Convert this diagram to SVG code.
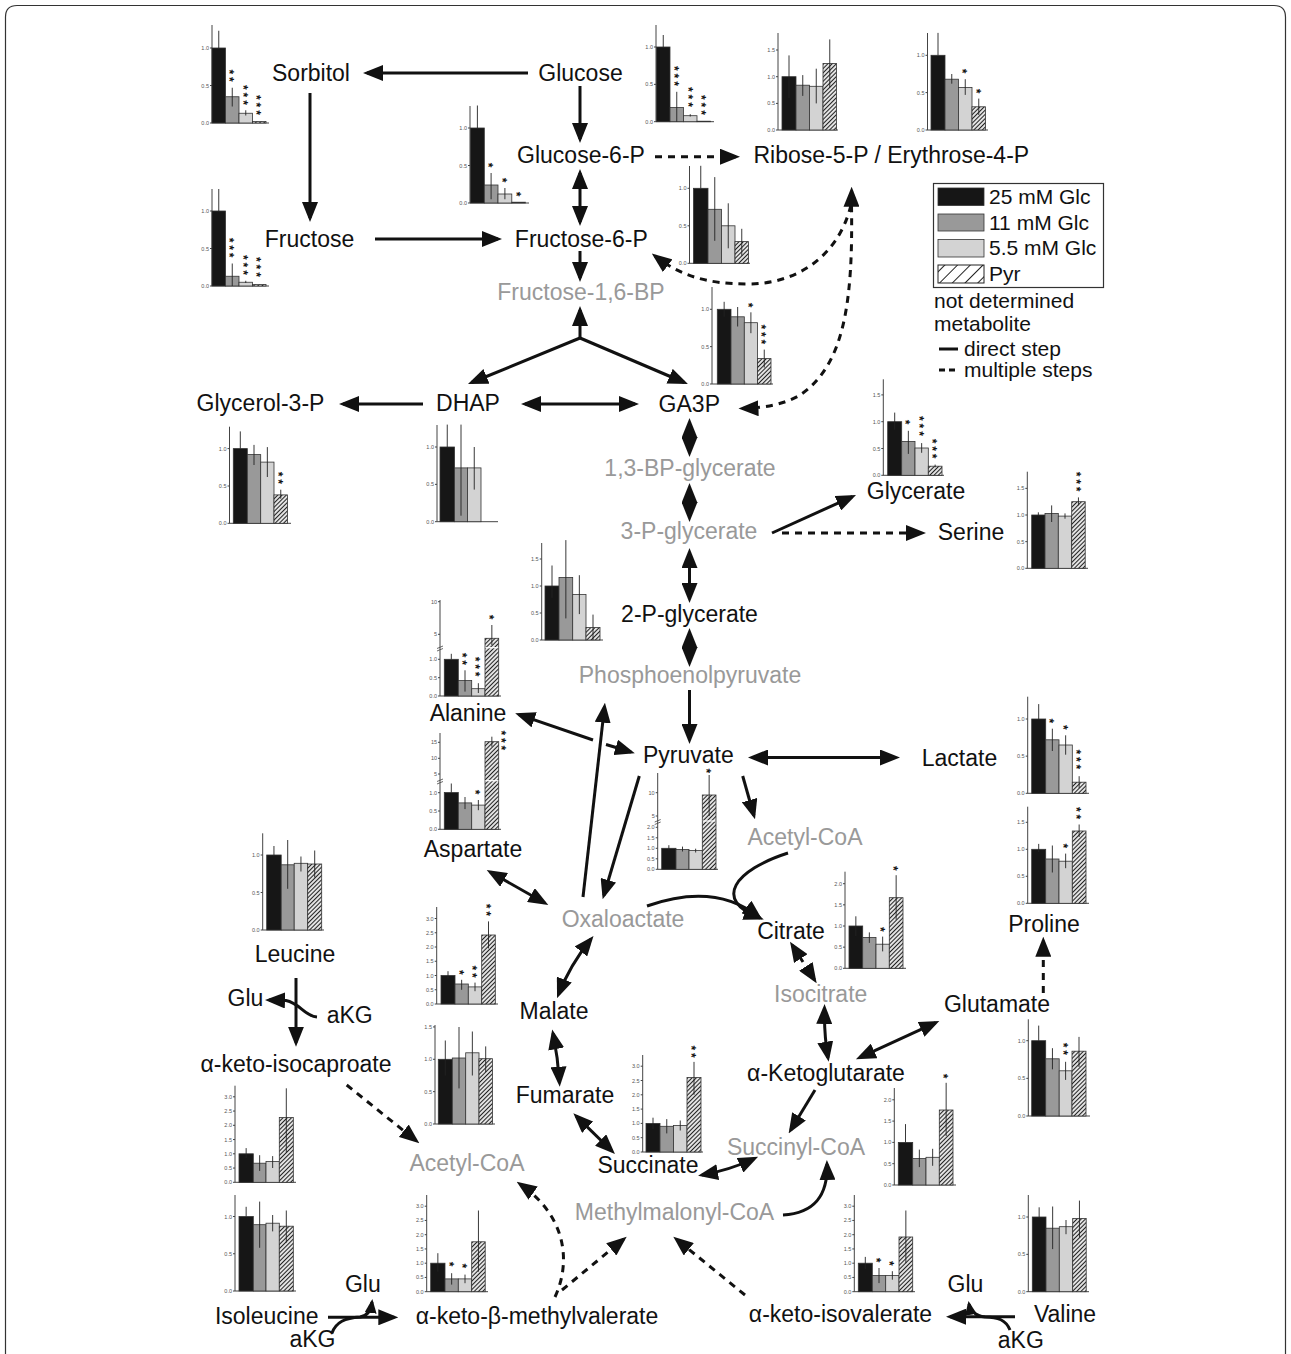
<svg xmlns="http://www.w3.org/2000/svg" width="1291" height="1354" viewBox="0 0 1291 1354">
<defs>
<style>
.t{font-family:"Liberation Sans",Arial,sans-serif;font-size:23px;fill:#111;text-anchor:middle}
.g{fill:#999}
.lg{font-family:"Liberation Sans",Arial,sans-serif;font-size:21px;fill:#111}
.ax{stroke:#444;stroke-width:1;fill:none}
.tk{font-family:"Liberation Sans",Arial,sans-serif;font-size:5.5px;fill:#555;text-anchor:end}
.b1{fill:#161616;stroke:#333;stroke-width:0.8}
.b2{fill:#999;stroke:#333;stroke-width:0.8}
.b3{fill:#d3d3d3;stroke:#333;stroke-width:0.8}
.b4{fill:url(#hatch);stroke:#333;stroke-width:0.8}
.er{stroke:#222;stroke-width:0.9;fill:none}
.sv{font-family:"Liberation Sans",Arial,sans-serif;font-size:12px;font-weight:bold;letter-spacing:2.9px;fill:#111;opacity:0.99}
.ln{stroke:#111;stroke-width:3;fill:none}
.ds{stroke:#111;stroke-width:3;fill:none;stroke-dasharray:7 6}
.a{marker-end:url(#ah)}
.aa{marker-start:url(#ah);marker-end:url(#ah)}
.brk{stroke:#fff;stroke-width:1.2}
</style>
<marker id="ah" markerUnits="userSpaceOnUse" markerWidth="20" markerHeight="16" refX="16" refY="8" orient="auto-start-reverse" viewBox="0 0 20 16"><path d="M0,0 L20,8 L0,16 z" fill="#111"/></marker>
<marker id="ahs" markerUnits="userSpaceOnUse" markerWidth="14" markerHeight="12" refX="11" refY="6" orient="auto" viewBox="0 0 14 12"><path d="M0,0 L14,6 L0,12 z" fill="#111"/></marker>
<pattern id="hatch" width="3" height="3" patternUnits="userSpaceOnUse" patternTransform="rotate(45)"><rect width="3" height="3" fill="#e2e2e2"/><line x1="0.5" y1="0" x2="0.5" y2="3" stroke="#222" stroke-width="1"/></pattern>
<pattern id="hatch2" width="9" height="9" patternUnits="userSpaceOnUse" patternTransform="rotate(45)"><rect width="9" height="9" fill="#fff"/><line x1="0.5" y1="0" x2="0.5" y2="9" stroke="#222" stroke-width="1"/></pattern>
</defs>
<rect width="1291" height="1354" fill="#fff"/>
<path d="M5.5,1354 V17 Q5.5,5.5 17,5.5 H1274 Q1285.5,5.5 1285.5,17 V1354" fill="none" stroke="#333" stroke-width="1.2"/>

<g id="connectors">
<path class="ln a" d="M528,73 L367,73"/>
<path class="ln a" d="M580,86 L580,139"/>
<path class="ln a" d="M310,93 L310,218"/>
<path class="ln a" d="M375,239 L498,239"/>
<path class="ln aa" d="M580,173 L580,222"/>
<path class="ln a" d="M580,251 L580,278"/>
<path class="ln a" d="M580,338 L580,310"/>
<path class="ln a" d="M580,338 L471.7,382.5"/>
<path class="ln a" d="M580,338 L684.3,382.5"/>
<path class="ln a" d="M423,404 L343,404"/>
<path class="ln aa" d="M525,404 L635,404"/>
<path class="ln aa" d="M689.5,422 L689.5,453"/>
<path class="ln aa" d="M689.5,487 L689.5,518"/>
<path class="ln aa" d="M689.5,552 L689.5,599"/>
<path class="ln aa" d="M689.5,632 L689.5,663"/>
<path class="ln a" d="M689.5,690 L689.5,740"/>
<path class="ln a" d="M772,533 L852.4,496.6"/>
<path class="ds a" d="M782,533 L922,533"/>
<path class="ln aa" d="M752,757.5 L896,757.5"/>
<path class="ln" d="M519,714.6 L593,740" marker-start="url(#ah)"/>
<path class="ln a" d="M606,744.5 L631,752"/>
<path class="ln a" d="M583,897 L604.5,706.7"/>
<path class="ln a" d="M639.3,776 L603.8,895.5"/>
<path class="ln a" d="M742.7,776 L753.9,815.5"/>
<path class="ln a" d="M788,853 C735,870 712,900 760,918"/>
<path class="ln a" d="M647,906 Q715,882 759,917"/>
<path class="ln aa" d="M490.2,872 L544.8,903"/>
<path class="ds aa" d="M792.2,945.1 L814.5,979.9"/>
<path class="ln aa" d="M824.5,1008 Q824,1035 828,1057.7"/>
<path class="ln aa" d="M859.6,1057.6 L935.7,1022.7"/>
<path class="ds a" d="M1043.3,993 L1043.3,940.7"/>
<path class="ln aa" d="M591,939 Q570,965 558.5,994.5"/>
<path class="ln aa" d="M553,1033.3 Q558,1058 559.5,1082.7"/>
<path class="ln aa" d="M576.2,1116.1 L612.1,1151.2"/>
<path class="ln aa" d="M702,1175 Q730,1170 754.5,1158.5"/>
<path class="ln a" d="M815,1090 L790.7,1130"/>
<path class="ln a" d="M783,1215 C815,1213 828,1195 827,1164"/>
<path class="ds a" d="M346.7,1085 L416.2,1140.8"/>
<path class="ds a" d="M555,1297 C572,1260 565,1215 520,1184"/>
<path class="ds a" d="M562,1290 L623.6,1239.2"/>
<path class="ds a" d="M745,1295 L676.4,1239.2"/>
<path class="ln a" d="M296,978 L296,1042.7"/>
<path class="ln a" d="M317,1017 C304,1016 300,1003 286,1000.5 L269,1000"/>
<path class="ln a" d="M328,1317.3 L394.3,1317.3"/>
<path class="ln" d="M332,1333 C336,1322 345,1318 360,1317 C368,1316 371,1310 372,1302" marker-end="url(#ahs)"/>
<path class="ln a" d="M1015,1316.7 L950,1316.7"/>
<path class="ln" d="M1010,1330 C1006,1320 998,1317 985,1317 C975,1316 970,1310 969,1304" marker-end="url(#ahs)"/>
<path class="ds a" d="M655,156.7 L736,156.7"/>
<path class="ds a" d="M851,205 C838,258 795,284 748,284 C705,284 680,275 655,256"/>
<path class="ds a" d="M851.5,205 C853,300 845,365 800,395 C785,404 765,408 742.5,408.5"/>
<path class="ln a" d="M851.5,205 L851.6,190.7"/>
</g>

<g id="legend">
<rect x="933.5" y="183.5" width="170" height="104" fill="#fff" stroke="#333" stroke-width="1.2"/>
<rect x="938" y="188" width="46" height="17.5" class="b1"/>
<rect x="938" y="214" width="46" height="17" class="b2"/>
<rect x="938" y="239.5" width="46" height="17.5" class="b3"/>
<rect x="938" y="265" width="46" height="18" fill="url(#hatch2)" stroke="#222" stroke-width="1"/>
<text class="lg" x="989" y="203.5">25 mM Glc</text>
<text class="lg" x="989" y="229.5">11 mM Glc</text>
<text class="lg" x="989" y="255">5.5 mM Glc</text>
<text class="lg" x="989" y="280.5">Pyr</text>
<text class="lg g" x="934" y="307.5">not determined</text>
<text class="lg g" x="934" y="330.5">metabolite</text>
<path d="M939,349 H958" class="ln"/>
<text class="lg" x="964" y="355.5">direct step</text>
<path d="M939,370 h6 M949,370 h6" class="ln"/>
<text class="lg" x="964" y="376.5">multiple steps</text>
</g>

<g id="sorbitol">
<text class="t" x="311" y="81">Sorbitol</text>
<path class="ax" d="M212,25 V123 M210,123 H269 M210,48 H212 M210,85.5 H212"/>
<text class="tk" x="209" y="50">1.0</text><text class="tk" x="209" y="87.5">0.5</text><text class="tk" x="209" y="125">0.0</text>
<rect class="b1" x="212" y="48" width="13.5" height="75"/><rect class="b2" x="225.5" y="96.75" width="13.5" height="26.25"/><rect class="b3" x="239" y="113.25" width="13.5" height="9.75"/><rect class="b4" x="252.5" y="121.5" width="13.5" height="1.5"/>
<path class="er" d="M218.75,48 V30.75 M232.25,106.5 V87.75 M245.75,115.5 V110.25"/>
<text class="sv" x="0" y="7" transform="translate(232.25,69.4) rotate(90)">**</text>
<text class="sv" x="0" y="7" transform="translate(245.75,85) rotate(90)">***</text>
<text class="sv" x="0" y="7" transform="translate(259.25,95) rotate(90)">***</text>
</g>

<g id="glucose">
<text class="t" x="580.5" y="81">Glucose</text>
<path class="ax" d="M656,25 V121.7 M654,121.7 H714 M654,47 H656 M654,84.35 H656"/>
<text class="tk" x="653" y="49">1.0</text><text class="tk" x="653" y="86.35">0.5</text><text class="tk" x="653" y="123.7">0.0</text>
<rect class="b1" x="656.5" y="47" width="13.5" height="74.7"/><rect class="b2" x="670" y="107.5" width="13.5" height="14.2"/><rect class="b3" x="683.5" y="115.7" width="13.5" height="6"/><rect class="b4" x="697" y="121.2" width="13.5" height="0.5"/>
<path class="er" d="M663.25,47 V35 M676.75,121.7 V91.8 M690.25,116.5 V114.2"/>
<text class="sv" x="0" y="7" transform="translate(677,66) rotate(90)">***</text>
<text class="sv" x="0" y="7" transform="translate(690.5,87) rotate(90)">***</text>
<text class="sv" x="0" y="7" transform="translate(704,95) rotate(90)">***</text>
</g>

<g id="glucose-6-p">
<text class="t" x="581" y="163.3">Glucose-6-P</text>
<path class="ax" d="M470,106 V203 M468,203 H529 M468,128 H470 M468,165.5 H470"/>
<text class="tk" x="467" y="130">1.0</text><text class="tk" x="467" y="167.5">0.5</text><text class="tk" x="467" y="205">0.0</text>
<rect class="b1" x="470.5" y="128" width="13.8" height="75"/><rect class="b2" x="484.3" y="185" width="13.7" height="18"/><rect class="b3" x="498" y="194" width="13.8" height="9"/><rect class="b4" x="511.8" y="202.2" width="13.7" height="0.8"/>
<path class="er" d="M477.4,128 V105.5 M491.1,199.25 V173 M504.9,199.25 V188"/>
<text class="sv" x="0" y="7" transform="translate(491.1,162.7) rotate(90)">*</text>
<text class="sv" x="0" y="7" transform="translate(504.9,177.7) rotate(90)">*</text>
<text class="sv" x="0" y="7" transform="translate(518.6,191.7) rotate(90)">*</text>
</g>

<g id="ribose-erythrose">
<text class="t" x="891.3" y="163.3">Ribose-5-P / Erythrose-4-P</text>
<path class="ax" d="M778,33 V130 M776,130 H838 M776,103.4 H778 M776,76.7 H778 M776,50 H778"/>
<text class="tk" x="775" y="132">0.0</text><text class="tk" x="775" y="105.4">0.5</text><text class="tk" x="775" y="78.7">1.0</text><text class="tk" x="775" y="52">1.5</text>
<rect class="b1" x="782" y="76.7" width="14" height="53.3"/><rect class="b2" x="796" y="85.2" width="13.5" height="44.8"/><rect class="b3" x="809.5" y="86.3" width="13.5" height="43.7"/><rect class="b4" x="823" y="63.4" width="13.5" height="66.6"/>
<path class="er" d="M789,98 V55.4 M802.75,95.9 V75.1 M816.25,103.4 V68.7 M829.75,87.4 V39.4"/>
<path class="ax" d="M927.5,33 V130 M925.5,130 H988 M925.5,55.3 H927.5 M925.5,92.6 H927.5"/>
<text class="tk" x="924.5" y="57.3">1.0</text><text class="tk" x="924.5" y="94.6">0.5</text><text class="tk" x="924.5" y="132">0.0</text>
<rect class="b1" x="931" y="55.3" width="14" height="74.7"/><rect class="b2" x="945" y="79.2" width="13.5" height="50.8"/><rect class="b3" x="958.5" y="87.4" width="13.5" height="42.6"/><rect class="b4" x="972" y="106.8" width="13.5" height="23.2"/>
<path class="er" d="M938,55.3 V32.9 M951.75,83.7 V74 M965.25,94.9 V79.2 M978.75,115 V98.6"/>
<text class="sv" x="0" y="7" transform="translate(965.25,68.7) rotate(90)">*</text>
<text class="sv" x="0" y="7" transform="translate(978.75,88.7) rotate(90)">*</text>
</g>

<g id="fructose">
<text class="t" x="309.5" y="246.7">Fructose</text>
<path class="ax" d="M212,189 V286 M210,286 H269 M210,211 H212 M210,248.5 H212"/>
<text class="tk" x="209" y="213">1.0</text><text class="tk" x="209" y="250.5">0.5</text><text class="tk" x="209" y="288">0.0</text>
<rect class="b1" x="212" y="211" width="13.5" height="75"/><rect class="b2" x="225.5" y="276.25" width="13.5" height="9.75"/><rect class="b3" x="239" y="282.25" width="13.5" height="3.75"/><rect class="b4" x="252.5" y="284.5" width="13.5" height="1.5"/>
<path class="er" d="M218.75,211 V189 M232.25,286 V263.5 M245.75,283 V280.75"/>
<text class="sv" x="0" y="7" transform="translate(232.25,237.7) rotate(90)">***</text>
<text class="sv" x="0" y="7" transform="translate(245.75,255) rotate(90)">***</text>
<text class="sv" x="0" y="7" transform="translate(259.25,257) rotate(90)">***</text>
</g>

<g id="fructose-6-p">
<text class="t" x="581.3" y="246.7">Fructose-6-P</text>
<path class="ax" d="M689.5,166 V263.3 M687.5,263.3 H750 M687.5,188.3 H689.5 M687.5,225.8 H689.5"/>
<text class="tk" x="686.5" y="190.3">1.0</text><text class="tk" x="686.5" y="227.8">0.5</text><text class="tk" x="686.5" y="265.3">0.0</text>
<rect class="b1" x="693.5" y="188.3" width="14.5" height="75"/><rect class="b2" x="708" y="209.3" width="13.5" height="54"/><rect class="b3" x="721.5" y="225.8" width="13.5" height="37.5"/><rect class="b4" x="735" y="241.6" width="13.5" height="21.7"/>
<path class="er" d="M700.75,188.3 V165.8 M714.75,240.8 V177.1 M728.25,248.3 V203.3 M741.75,255.8 V228.8"/>
</g>

<g id="fructose-16-bp">
<text class="t g" x="581" y="299.5">Fructose-1,6-BP</text>
</g>

<g id="ga3p">
<text class="t" x="689.3" y="411.5">GA3P</text>
<path class="ax" d="M712,287 V384 M710,384 H773 M710,309.3 H712 M710,346.65 H712"/>
<text class="tk" x="709" y="311.3">1.0</text><text class="tk" x="709" y="348.65">0.5</text><text class="tk" x="709" y="386">0.0</text>
<rect class="b1" x="717.3" y="309.3" width="13.7" height="74.7"/><rect class="b2" x="731" y="316.8" width="13.3" height="67.2"/><rect class="b3" x="744.3" y="322.7" width="13.2" height="61.3"/><rect class="b4" x="757.5" y="358.6" width="13.5" height="25.4"/>
<path class="er" d="M724.15,316.8 V301.8 M737.65,326.5 V307 M750.9,333.2 V312.3 M764.25,367.6 V349.6"/>
<text class="sv" x="0" y="7" transform="translate(750.9,302.7) rotate(90)">*</text>
<text class="sv" x="0" y="7" transform="translate(764.25,324.4) rotate(90)">***</text>
</g>

<g id="glycerol-3-p">
<text class="t" x="260.5" y="410.7">Glycerol-3-P</text>
<path class="ax" d="M229.5,426.7 V523.3 M227.5,523.3 H291 M227.5,448.6 H229.5 M227.5,486 H229.5"/>
<text class="tk" x="226.5" y="450.6">1.0</text><text class="tk" x="226.5" y="488">0.5</text><text class="tk" x="226.5" y="525.3">0.0</text>
<rect class="b1" x="233.3" y="448.6" width="14" height="74.7"/><rect class="b2" x="247.3" y="454.6" width="13.4" height="68.7"/><rect class="b3" x="260.7" y="462.1" width="13.3" height="61.2"/><rect class="b4" x="274" y="494.9" width="13.5" height="28.4"/>
<path class="er" d="M240.3,448.6 V431.4 M254,465 V444.9 M267.35,477 V447.1 M280.75,498.7 V489.7"/>
<text class="sv" x="0" y="7" transform="translate(280.75,471.7) rotate(90)">**</text>
</g>

<g id="dhap">
<text class="t" x="468" y="410.7">DHAP</text>
<path class="ax" d="M437,425 V521.7 M435,521.7 H498 M435,447 H437 M435,484.35 H437"/>
<text class="tk" x="434" y="449">1.0</text><text class="tk" x="434" y="486.35">0.5</text><text class="tk" x="434" y="523.7">0.0</text>
<rect class="b1" x="440" y="447" width="14.5" height="74.7"/><rect class="b2" x="454.5" y="467.9" width="13" height="53.8"/><rect class="b3" x="467.5" y="467.9" width="13.5" height="53.8"/>
<path class="er" d="M447.25,447 V424.6 M461,515.7 V424.6 M474.25,489.6 V447"/>
</g>

<g id="13-bp-glycerate"><text class="t g" x="690" y="476">1,3-BP-glycerate</text></g>
<g id="3-p-glycerate"><text class="t g" x="689" y="539.3">3-P-glycerate</text></g>

<g id="glycerate">
<text class="t" x="916" y="499.3">Glycerate</text>
<path class="ax" d="M883.3,379.3 V475.3 M881.3,475.3 H944 M881.3,448.5 H883.3 M881.3,421.7 H883.3 M881.3,394.9 H883.3"/>
<text class="tk" x="880.3" y="477.3">0.0</text><text class="tk" x="880.3" y="450.5">0.5</text><text class="tk" x="880.3" y="423.7">1.0</text><text class="tk" x="880.3" y="396.9">1.5</text>
<rect class="b1" x="887.7" y="421.7" width="14" height="53.6"/><rect class="b2" x="901.7" y="441.5" width="13.3" height="33.8"/><rect class="b3" x="915" y="448" width="13.3" height="27.3"/><rect class="b4" x="928.3" y="466.2" width="13.7" height="9.1"/>
<path class="er" d="M894.7,429.7 V412.6 M908.35,453.9 V430.8 M921.65,452.8 V443.1 M935.15,467.3 V464.6"/>
<text class="sv" x="0" y="7" transform="translate(908.35,419.7) rotate(90)">*</text>
<text class="sv" x="0" y="7" transform="translate(921.65,416) rotate(90)">***</text>
<text class="sv" x="0" y="7" transform="translate(935.15,438.7) rotate(90)">***</text>
</g>

<g id="serine">
<text class="t" x="971" y="540">Serine</text>
<path class="ax" d="M1027.3,471.7 V568.3 M1025.3,568.3 H1088 M1025.3,541.65 H1027.3 M1025.3,515 H1027.3 M1025.3,488.35 H1027.3"/>
<text class="tk" x="1024.3" y="570.3">0.0</text><text class="tk" x="1024.3" y="543.65">0.5</text><text class="tk" x="1024.3" y="517">1.0</text><text class="tk" x="1024.3" y="490.35">1.5</text>
<rect class="b1" x="1031.7" y="515" width="13.3" height="53.3"/><rect class="b2" x="1045" y="513.4" width="13.3" height="54.9"/><rect class="b3" x="1058.3" y="516.1" width="13.4" height="52.2"/><rect class="b4" x="1071.7" y="501.7" width="13.5" height="66.6"/>
<path class="er" d="M1038.35,516.1 V512.3 M1051.65,522 V505.4 M1065,518.7 V513.4 M1078.45,505.4 V497.4"/>
<text class="sv" x="0" y="7" transform="translate(1079,471.7) rotate(90)">***</text>
</g>

<g id="2-p-glycerate">
<text class="t" x="689.5" y="621.7">2-P-glycerate</text>
<path class="ax" d="M541.7,543 V640 M539.7,640 H603 M539.7,613 H541.7 M539.7,586 H541.7 M539.7,559 H541.7"/>
<text class="tk" x="538.7" y="642">0.0</text><text class="tk" x="538.7" y="615">0.5</text><text class="tk" x="538.7" y="588">1.0</text><text class="tk" x="538.7" y="561">1.5</text>
<rect class="b1" x="545" y="586" width="14" height="54"/><rect class="b2" x="559" y="577.4" width="13.7" height="62.6"/><rect class="b3" x="572.7" y="594.6" width="13.3" height="45.4"/><rect class="b4" x="586" y="627.6" width="14" height="12.4"/>
<path class="er" d="M552,597.9 V565.5 M565.85,618.4 V540.1 M579.35,614.1 V575.2 M593,640 V614.6"/>
</g>

<g id="phosphoenolpyruvate"><text class="t g" x="690" y="683.3">Phosphoenolpyruvate</text></g>

<g id="alanine">
<text class="t" x="468" y="720.7">Alanine</text>
<path class="ax" d="M440,600 V696 M438,696 H501 M438,677.7 H440 M438,659.3 H440 M438,634.3 H440 M438,601.7 H440"/>
<path d="M437,648.5 l6,-2.5 M437,651 l6,-2.5" stroke="#444" stroke-width="0.8"/>
<text class="tk" x="437" y="698">0.0</text><text class="tk" x="437" y="679.7">0.5</text><text class="tk" x="437" y="661.3">1.0</text><text class="tk" x="437" y="636.3">5</text><text class="tk" x="437" y="603.7">10</text>
<rect class="b1" x="444.3" y="659.3" width="14" height="36.7"/><rect class="b2" x="458.3" y="680.6" width="13.4" height="15.4"/><rect class="b3" x="471.7" y="688.7" width="13.3" height="7.3"/><rect class="b4" x="485" y="638.3" width="13.7" height="57.7"/>
<path class="brk" d="M485.4,647.7 H498.3"/>
<path class="er" d="M451.3,659.3 V653.8 M465,691.6 V670.3 M478.35,693 V683.2 M491.85,645 V625"/>
<text class="sv" x="0" y="7" transform="translate(491.85,614.7) rotate(90)">*</text>
<text class="sv" x="0" y="7" transform="translate(465,652.7) rotate(90)">**</text>
<text class="sv" x="0" y="7" transform="translate(478.35,656.7) rotate(90)">***</text>
</g>

<g id="aspartate">
<text class="t" x="473" y="857.3">Aspartate</text>
<path class="ax" d="M440,733 V829.3 M438,829.3 H501 M438,811 H440 M438,792.7 H440 M438,774 H440 M438,758.3 H440 M438,742.3 H440"/>
<path d="M437,781.5 l6,-2.5 M437,784 l6,-2.5" stroke="#444" stroke-width="0.8"/>
<text class="tk" x="437" y="831.3">0.0</text><text class="tk" x="437" y="813">0.5</text><text class="tk" x="437" y="794.7">1.0</text><text class="tk" x="437" y="776">5</text><text class="tk" x="437" y="760.3">10</text><text class="tk" x="437" y="744.3">15</text>
<rect class="b1" x="444.3" y="792.6" width="14" height="36.7"/><rect class="b2" x="458.3" y="802.9" width="13.4" height="26.4"/><rect class="b3" x="471.7" y="805.1" width="13.3" height="24.2"/><rect class="b4" x="485" y="741.7" width="13.7" height="87.6"/>
<path class="brk" d="M485.4,780.7 H498.3"/>
<path class="er" d="M451.3,792.6 V783.5 M465,809.1 V797 M478.35,810.2 V800 M491.85,746.7 V736.7"/>
<text class="sv" x="0" y="7" transform="translate(504,730.4) rotate(90)">***</text>
<text class="sv" x="0" y="7" transform="translate(478.35,789.7) rotate(90)">*</text>
</g>

<g id="pyruvate">
<text class="t" x="688.3" y="762.7">Pyruvate</text>
<path class="ax" d="M657.7,773 V869.3 M655.7,869.3 H718 M655.7,858.8 H657.7 M655.7,848.3 H657.7 M655.7,837.8 H657.7 M655.7,827.3 H657.7 M655.7,816 H657.7 M655.7,792.7 H657.7"/>
<path d="M654.7,822 l6,-2.5 M654.7,824.5 l6,-2.5" stroke="#444" stroke-width="0.8"/>
<text class="tk" x="654.7" y="871.3">0.0</text><text class="tk" x="654.7" y="860.8">0.5</text><text class="tk" x="654.7" y="850.3">1.0</text><text class="tk" x="654.7" y="839.8">1.5</text><text class="tk" x="654.7" y="829.3">2.0</text><text class="tk" x="654.7" y="818">5</text><text class="tk" x="654.7" y="794.7">10</text>
<rect class="b1" x="661.7" y="848.3" width="14.3" height="21"/><rect class="b2" x="676" y="849.4" width="13" height="19.9"/><rect class="b3" x="689" y="850.4" width="13.3" height="18.9"/><rect class="b4" x="702.3" y="795" width="13.7" height="74.3"/>
<path class="brk" d="M702.7,821 H715.6"/>
<path class="er" d="M668.85,850.4 V845.2 M682.5,851.5 V846.6 M695.65,852.5 V848.7 M709.15,816 V775"/>
<text class="sv" x="0" y="7" transform="translate(709.3,768.5) rotate(90)">*</text>
</g>

<g id="lactate">
<text class="t" x="959.5" y="766">Lactate</text>
<path class="ax" d="M1027.7,696.7 V793.3 M1025.7,793.3 H1089 M1025.7,719 H1027.7 M1025.7,756.15 H1027.7"/>
<text class="tk" x="1024.7" y="721">1.0</text><text class="tk" x="1024.7" y="758.15">0.5</text><text class="tk" x="1024.7" y="795.3">0.0</text>
<rect class="b1" x="1031.7" y="719" width="14" height="74.3"/><rect class="b2" x="1045.7" y="739.8" width="13.3" height="53.5"/><rect class="b3" x="1059" y="745" width="13.3" height="48.3"/><rect class="b4" x="1072.3" y="782.2" width="13.7" height="11.1"/>
<path class="er" d="M1038.7,719 V704.1 M1052.35,751 V728.7 M1065.65,754.7 V735.3 M1079.15,788.1 V776.2"/>
<text class="sv" x="0" y="7" transform="translate(1052.35,718.4) rotate(90)">*</text>
<text class="sv" x="0" y="7" transform="translate(1065.65,725) rotate(90)">*</text>
<text class="sv" x="0" y="7" transform="translate(1079.15,749.4) rotate(90)">***</text>
</g>

<g id="acetyl-coa-1"><text class="t g" x="805" y="845">Acetyl-CoA</text></g>
<g id="oxaloactate"><text class="t g" x="623" y="927.3">Oxaloactate</text></g>

<g id="proline">
<text class="t" x="1044" y="931.7">Proline</text>
<path class="ax" d="M1027.7,806.7 V903.3 M1025.7,903.3 H1089 M1025.7,876.3 H1027.7 M1025.7,849.3 H1027.7 M1025.7,822.3 H1027.7"/>
<text class="tk" x="1024.7" y="905.3">0.0</text><text class="tk" x="1024.7" y="878.3">0.5</text><text class="tk" x="1024.7" y="851.3">1.0</text><text class="tk" x="1024.7" y="824.3">1.5</text>
<rect class="b1" x="1031.7" y="849.3" width="14" height="54"/><rect class="b2" x="1045.7" y="859" width="13.3" height="44.3"/><rect class="b3" x="1059" y="861.2" width="13.3" height="42.1"/><rect class="b4" x="1072.3" y="831" width="13.7" height="72.3"/>
<path class="er" d="M1038.7,852 V843.9 M1052.35,872.5 V845.5 M1065.65,868.2 V853.6 M1079.15,836.9 V824.5"/>
<text class="sv" x="0" y="7" transform="translate(1065.65,843.4) rotate(90)">*</text>
<text class="sv" x="0" y="7" transform="translate(1079.15,807) rotate(90)">**</text>
</g>

<g id="citrate">
<text class="t" x="791" y="939.3">Citrate</text>
<path class="ax" d="M845,871.7 V968.3 M843,968.3 H906 M843,947.15 H845 M843,926 H845 M843,904.85 H845 M843,883.7 H845"/>
<text class="tk" x="842" y="970.3">0.0</text><text class="tk" x="842" y="949.15">0.5</text><text class="tk" x="842" y="928">1.0</text><text class="tk" x="842" y="906.85">1.5</text><text class="tk" x="842" y="885.7">2.0</text>
<rect class="b1" x="849" y="926" width="13.7" height="42.3"/><rect class="b2" x="862.7" y="937.4" width="13.3" height="30.9"/><rect class="b3" x="876" y="944.2" width="13.3" height="24.1"/><rect class="b4" x="889.3" y="897.7" width="13.7" height="70.6"/>
<path class="er" d="M855.85,936.1 V916.3 M869.35,942.9 V932.4 M882.65,951.4 V936.6 M896.15,919.7 V875.2"/>
<text class="sv" x="0" y="7" transform="translate(882.65,927) rotate(90)">*</text>
<text class="sv" x="0" y="7" transform="translate(896.15,866) rotate(90)">*</text>
</g>

<g id="isocitrate"><text class="t g" x="820.7" y="1001.7">Isocitrate</text></g>

<g id="malate">
<text class="t" x="554" y="1019.3">Malate</text>
<path class="ax" d="M436.7,907 V1004 M434.7,1004 H498 M434.7,989.75 H436.7 M434.7,975.5 H436.7 M434.7,961.25 H436.7 M434.7,947 H436.7 M434.7,932.75 H436.7 M434.7,918.5 H436.7"/>
<text class="tk" x="433.7" y="1006">0.0</text><text class="tk" x="433.7" y="991.75">0.5</text><text class="tk" x="433.7" y="977.5">1.0</text><text class="tk" x="433.7" y="963.25">1.5</text><text class="tk" x="433.7" y="949">2.0</text><text class="tk" x="433.7" y="934.75">2.5</text><text class="tk" x="433.7" y="920.5">3.0</text>
<rect class="b1" x="441" y="975.5" width="14" height="28.5"/><rect class="b2" x="455" y="984" width="13.3" height="20"/><rect class="b3" x="468.3" y="986.9" width="13.4" height="17.1"/><rect class="b4" x="481.7" y="935" width="13.6" height="69"/>
<path class="er" d="M448,978.4 V971.2 M461.65,989.8 V979.8 M475,991.2 V982.6 M488.5,948.4 V921.4"/>
<text class="sv" x="0" y="7" transform="translate(461.65,970) rotate(90)">*</text>
<text class="sv" x="0" y="7" transform="translate(475,965.4) rotate(90)">**</text>
<text class="sv" x="0" y="7" transform="translate(488.5,903.7) rotate(90)">**</text>
</g>

<g id="fumarate">
<text class="t" x="565" y="1103.3">Fumarate</text>
<path class="ax" d="M435,1025 V1124 M433,1124 H495 M433,1091.65 H435 M433,1059.3 H435 M433,1026.95 H435"/>
<text class="tk" x="432" y="1126">0.0</text><text class="tk" x="432" y="1093.65">0.5</text><text class="tk" x="432" y="1061.3">1.0</text><text class="tk" x="432" y="1028.95">1.5</text>
<rect class="b1" x="438.3" y="1059.3" width="14" height="64.7"/><rect class="b2" x="452.3" y="1058" width="13.4" height="66"/><rect class="b3" x="465.7" y="1052.8" width="13.3" height="71.2"/><rect class="b4" x="479" y="1058.7" width="13.4" height="65.3"/>
<path class="er" d="M445.3,1075.5 V1040.5 M459,1088.4 V1027 M472.35,1075.5 V1031.5 M485.7,1072.2 V1046.4"/>
</g>

<g id="succinate">
<text class="t" x="648" y="1173.3">Succinate</text>
<path class="ax" d="M642.7,1055 V1152 M640.7,1152 H703 M640.7,1137.7 H642.7 M640.7,1123.4 H642.7 M640.7,1109.1 H642.7 M640.7,1094.8 H642.7 M640.7,1080.5 H642.7 M640.7,1066.2 H642.7"/>
<text class="tk" x="639.7" y="1154">0.0</text><text class="tk" x="639.7" y="1139.7">0.5</text><text class="tk" x="639.7" y="1125.4">1.0</text><text class="tk" x="639.7" y="1111.1">1.5</text><text class="tk" x="639.7" y="1096.8">2.0</text><text class="tk" x="639.7" y="1082.5">2.5</text><text class="tk" x="639.7" y="1068.2">3.0</text>
<rect class="b1" x="646" y="1123.4" width="14" height="28.6"/><rect class="b2" x="660" y="1126.3" width="13.5" height="25.7"/><rect class="b3" x="673.5" y="1125.4" width="13.5" height="26.6"/><rect class="b4" x="687" y="1077.6" width="14" height="74.4"/>
<path class="er" d="M653,1129.1 V1117.7 M666.75,1133.4 V1119.1 M680.25,1130.5 V1120.5 M694,1094.8 V1061.9"/>
<text class="sv" x="0" y="7" transform="translate(694,1045.4) rotate(90)">**</text>
</g>

<g id="alpha-ketoglutarate">
<text class="t" x="826" y="1080.7">α-Ketoglutarate</text>
<path class="ax" d="M894.3,1088 V1185 M892.3,1185 H956 M892.3,1163.7 H894.3 M892.3,1142.4 H894.3 M892.3,1121.1 H894.3 M892.3,1099.8 H894.3"/>
<text class="tk" x="891.3" y="1187">0.0</text><text class="tk" x="891.3" y="1165.7">0.5</text><text class="tk" x="891.3" y="1144.4">1.0</text><text class="tk" x="891.3" y="1123.1">1.5</text><text class="tk" x="891.3" y="1101.8">2.0</text>
<rect class="b1" x="898.3" y="1142.4" width="14.4" height="42.6"/><rect class="b2" x="912.7" y="1158.6" width="13.3" height="26.4"/><rect class="b3" x="926" y="1157.3" width="13.3" height="27.7"/><rect class="b4" x="939.3" y="1110" width="13.7" height="75"/>
<path class="er" d="M905.5,1142.4 V1124.1 M919.35,1167.1 V1149.6 M932.65,1165.8 V1148.8 M946.15,1136 V1082.8"/>
<text class="sv" x="0" y="7" transform="translate(946.15,1073.7) rotate(90)">*</text>
</g>

<g id="glutamate">
<text class="t" x="997" y="1011.7">Glutamate</text>
<path class="ax" d="M1028.3,1019.3 V1116 M1026.3,1116 H1090 M1026.3,1040.7 H1028.3 M1026.3,1078.35 H1028.3"/>
<text class="tk" x="1025.3" y="1042.7">1.0</text><text class="tk" x="1025.3" y="1080.35">0.5</text><text class="tk" x="1025.3" y="1118">0.0</text>
<rect class="b1" x="1031.7" y="1040.7" width="14" height="75.3"/><rect class="b2" x="1045.7" y="1058.8" width="13.5" height="57.2"/><rect class="b3" x="1059.2" y="1070.8" width="12.8" height="45.2"/><rect class="b4" x="1072" y="1051.2" width="14" height="64.8"/>
<path class="er" d="M1038.7,1040.7 V1025.6 M1052.45,1069.3 V1048.2 M1065.6,1079.9 V1061.8 M1079,1067 V1036.9"/>
<text class="sv" x="0" y="7" transform="translate(1066,1042.7) rotate(90)">**</text>
</g>

<g id="succinyl-coa"><text class="t g" x="796" y="1155">Succinyl-CoA</text></g>
<g id="acetyl-coa-2"><text class="t g" x="467" y="1171">Acetyl-CoA</text></g>
<g id="methylmalonyl-coa"><text class="t g" x="674.5" y="1220">Methylmalonyl-CoA</text></g>

<g id="leucine">
<text class="t" x="295" y="961.7">Leucine</text>
<text class="t" x="245.5" y="1006">Glu</text>
<text class="t" x="349.7" y="1023.3">aKG</text>
<path class="ax" d="M262.7,833.3 V930 M260.7,930 H324 M260.7,855 H262.7 M260.7,892.5 H262.7"/>
<text class="tk" x="259.7" y="857">1.0</text><text class="tk" x="259.7" y="894.5">0.5</text><text class="tk" x="259.7" y="932">0.0</text>
<rect class="b1" x="266.7" y="855" width="14.5" height="75"/><rect class="b2" x="281.2" y="864.8" width="13" height="65.2"/><rect class="b3" x="294.2" y="863.3" width="13.5" height="66.7"/><rect class="b4" x="307.7" y="864" width="14" height="66"/>
<path class="er" d="M273.95,855 V846 M287.7,888.8 V840 M300.95,871.5 V856.5 M314.7,877.5 V850.5"/>
</g>

<g id="alpha-keto-isocaproate">
<text class="t" x="296" y="1071.7">α-keto-isocaproate</text>
<path class="ax" d="M235,1085.7 V1182.3 M233,1182.3 H296 M233,1168.05 H235 M233,1153.8 H235 M233,1139.55 H235 M233,1125.3 H235 M233,1111.05 H235 M233,1096.8 H235"/>
<text class="tk" x="232" y="1184.3">0.0</text><text class="tk" x="232" y="1170.05">0.5</text><text class="tk" x="232" y="1155.8">1.0</text><text class="tk" x="232" y="1141.55">1.5</text><text class="tk" x="232" y="1127.3">2.0</text><text class="tk" x="232" y="1113.05">2.5</text><text class="tk" x="232" y="1098.8">3.0</text>
<rect class="b1" x="239" y="1153.8" width="14.3" height="28.5"/><rect class="b2" x="253.3" y="1163.2" width="12.7" height="19.1"/><rect class="b3" x="266" y="1161.5" width="13.3" height="20.8"/><rect class="b4" x="279.3" y="1117.6" width="14" height="64.7"/>
<path class="er" d="M246.15,1158.1 V1148.1 M259.65,1170.9 V1155.2 M272.65,1168 V1156.1 M286.3,1152.4 V1088.3"/>
</g>

<g id="isoleucine">
<text class="t" x="266.7" y="1324">Isoleucine</text>
<text class="t" x="362.8" y="1291.7">Glu</text>
<text class="t" x="312.5" y="1346.7">aKG</text>
<path class="ax" d="M235,1195 V1291 M233,1291 H296 M233,1216.5 H235 M233,1253.75 H235"/>
<text class="tk" x="232" y="1218.5">1.0</text><text class="tk" x="232" y="1255.75">0.5</text><text class="tk" x="232" y="1293">0.0</text>
<rect class="b1" x="239" y="1216.5" width="14.3" height="74.5"/><rect class="b2" x="253.3" y="1224.7" width="12.7" height="66.3"/><rect class="b3" x="266" y="1223.2" width="13.3" height="67.8"/><rect class="b4" x="279.3" y="1226.2" width="14" height="64.8"/>
<path class="er" d="M246.15,1216.5 V1206.8 M259.65,1247.8 V1201.6 M272.65,1231.4 V1215 M286.3,1242.6 V1210.5"/>
</g>

<g id="alpha-keto-beta-methylvalerate">
<text class="t" x="537" y="1324">α-keto-β-methylvalerate</text>
<path class="ax" d="M426.7,1195 V1291.7 M424.7,1291.7 H488 M424.7,1277.45 H426.7 M424.7,1263.2 H426.7 M424.7,1248.95 H426.7 M424.7,1234.7 H426.7 M424.7,1220.45 H426.7 M424.7,1206.2 H426.7"/>
<text class="tk" x="423.7" y="1293.7">0.0</text><text class="tk" x="423.7" y="1279.45">0.5</text><text class="tk" x="423.7" y="1265.2">1.0</text><text class="tk" x="423.7" y="1250.95">1.5</text><text class="tk" x="423.7" y="1236.7">2.0</text><text class="tk" x="423.7" y="1222.45">2.5</text><text class="tk" x="423.7" y="1208.2">3.0</text>
<rect class="b1" x="430.7" y="1263.2" width="14.3" height="28.5"/><rect class="b2" x="445" y="1278.9" width="13.3" height="12.8"/><rect class="b3" x="458.3" y="1278.9" width="13.4" height="12.8"/><rect class="b4" x="471.7" y="1241.8" width="13.5" height="49.9"/>
<path class="er" d="M437.85,1271.7 V1253.2 M451.65,1284.6 V1273.2 M465,1283.2 V1274.6 M478.45,1271.7 V1210.5"/>
<text class="sv" x="0" y="7" transform="translate(451.65,1261.7) rotate(90)">*</text>
<text class="sv" x="0" y="7" transform="translate(465,1263.4) rotate(90)">*</text>
</g>

<g id="alpha-keto-isovalerate">
<text class="t" x="840.5" y="1321.7">α-keto-isovalerate</text>
<path class="ax" d="M854.3,1195 V1291.7 M852.3,1291.7 H915 M852.3,1277.45 H854.3 M852.3,1263.2 H854.3 M852.3,1248.95 H854.3 M852.3,1234.7 H854.3 M852.3,1220.45 H854.3 M852.3,1206.2 H854.3"/>
<text class="tk" x="851.3" y="1293.7">0.0</text><text class="tk" x="851.3" y="1279.45">0.5</text><text class="tk" x="851.3" y="1265.2">1.0</text><text class="tk" x="851.3" y="1250.95">1.5</text><text class="tk" x="851.3" y="1236.7">2.0</text><text class="tk" x="851.3" y="1222.45">2.5</text><text class="tk" x="851.3" y="1208.2">3.0</text>
<rect class="b1" x="858.3" y="1263.2" width="14" height="28.5"/><rect class="b2" x="872.3" y="1275.5" width="13.4" height="16.2"/><rect class="b3" x="885.7" y="1275.5" width="13.3" height="16.2"/><rect class="b4" x="899" y="1237" width="13.7" height="54.7"/>
<path class="er" d="M865.3,1268.9 V1256.9 M879,1283.1 V1268 M892.35,1279.7 V1271.2 M905.85,1263.2 V1210.5"/>
<text class="sv" x="0" y="7" transform="translate(879,1257.7) rotate(90)">*</text>
<text class="sv" x="0" y="7" transform="translate(892.35,1261) rotate(90)">*</text>
</g>

<g id="valine">
<text class="t" x="1065" y="1321.7">Valine</text>
<text class="t" x="965.5" y="1291.7">Glu</text>
<text class="t" x="1020.8" y="1348.3">aKG</text>
<path class="ax" d="M1028.3,1195 V1291.7 M1026.3,1291.7 H1089 M1026.3,1217 H1028.3 M1026.3,1254.35 H1028.3"/>
<text class="tk" x="1025.3" y="1219">1.0</text><text class="tk" x="1025.3" y="1256.35">0.5</text><text class="tk" x="1025.3" y="1293.7">0.0</text>
<rect class="b1" x="1032.3" y="1217" width="13.7" height="74.7"/><rect class="b2" x="1046" y="1228.2" width="13.3" height="63.5"/><rect class="b3" x="1059.3" y="1226.7" width="13.4" height="65"/><rect class="b4" x="1072.7" y="1218.5" width="13.5" height="73.2"/>
<path class="er" d="M1039.15,1217 V1207.3 M1052.65,1249.1 V1206.5 M1066,1234.2 V1220 M1079.45,1237.2 V1200.6"/>
</g>
</svg>
